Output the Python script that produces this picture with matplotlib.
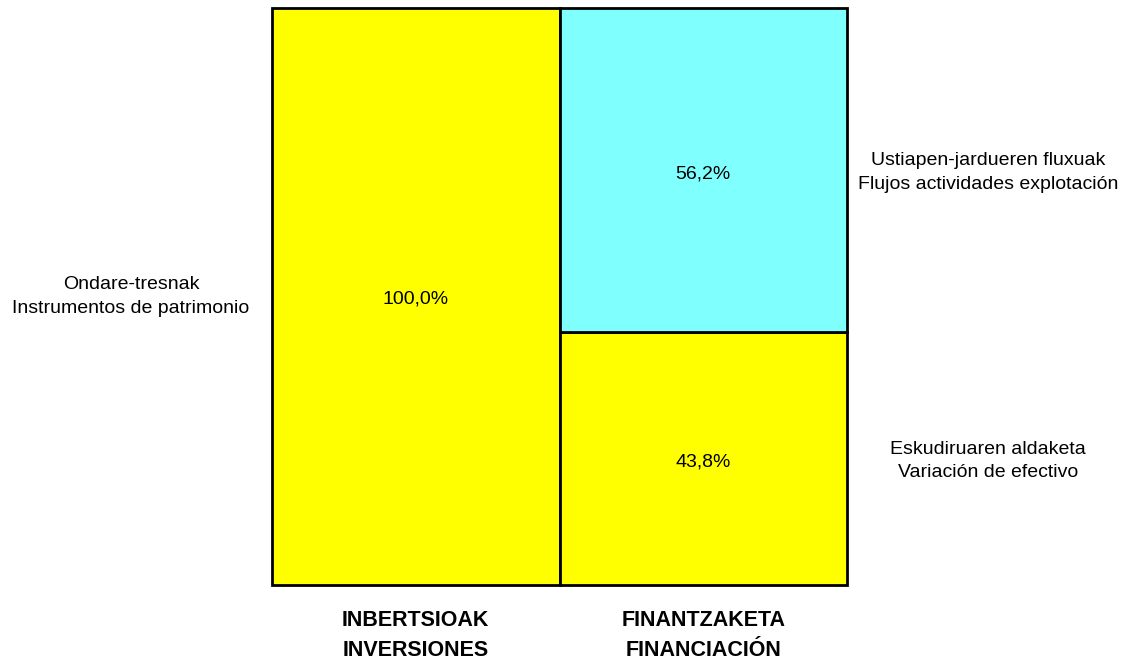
import matplotlib.pyplot as plt

plt.rcParams['font.family'] = ['Liberation Sans', 'DejaVu Sans']

categories = ['INBERTSIOAK\nINVERSIONES', 'FINANTZAKETA\nFINANCIACIÓN']

# left column: inversiones
inv_values = [100.0]
inv_labels = ['Ondare-tresnak\nInstrumentos de patrimonio']
inv_colors = ['#FFFF00']

# right column: financiacion (bottom to top)
fin_values = [43.8, 56.2]
fin_labels = ['Eskudiruaren aldaketa\nVariación de efectivo',
              'Ustiapen-jardueren fluxuak\nFlujos actividades explotación']
fin_colors = ['#FFFF00', '#80FFFF']

fig = plt.figure(figsize=(11.23, 6.61), dpi=100)
ax = fig.add_axes([272 / 1123, 1 - 585 / 661, 575 / 1123, 577 / 661])

bottom = 0
for v, c in zip(inv_values, inv_colors):
    ax.bar(0, v, width=1.0, bottom=bottom, color=c, edgecolor='black',
           linewidth=2, clip_on=False)
    ax.text(0, bottom + v / 2 - 0.5, f'{v:.1f}%'.replace('.', ','), ha='center',
            va='center', fontsize=14)
    bottom += v
ax.text(-0.99, inv_values[0] / 2, inv_labels[0], ha='center', va='center',
        fontsize=14, linespacing=1.5)

bottom = 0
for v, c, lab in zip(fin_values, fin_colors, fin_labels):
    ax.bar(1, v, width=1.0, bottom=bottom, color=c, edgecolor='black',
           linewidth=2, clip_on=False)
    ax.text(1, bottom + v / 2 - 0.6, f'{v:.1f}%'.replace('.', ','), ha='center',
            va='center', fontsize=14)
    ax.text(1.99, bottom + v / 2 - 0.4, lab, ha='center', va='center', fontsize=14,
            linespacing=1.5)
    bottom += v

ax.set_xlim(-0.5, 1.5)
ax.set_ylim(0, 100)
ax.set_xticks([0, 1])
ax.set_xticklabels(categories, fontsize=15.5, fontweight='bold', linespacing=1.55)
ax.tick_params(axis='x', length=0, pad=18)
ax.set_yticks([])
for s in ax.spines.values():
    s.set_visible(False)

fig.savefig('out.png', dpi=100)
